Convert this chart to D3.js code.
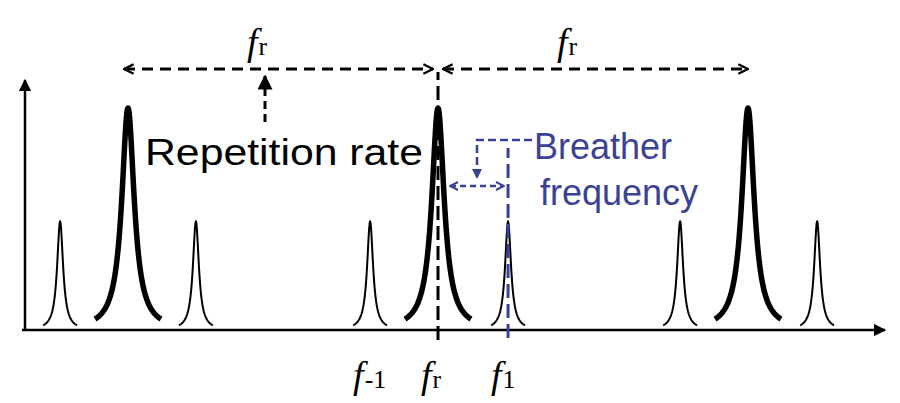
<!DOCTYPE html><html><head><meta charset="utf-8"><script src="https://d3js.org/d3.v7.min.js"></script>
<style>body{margin:0;background:#fff}</style></head><body><svg id="c" width="900" height="403"></svg>
<script>
const peakPos=[-1.219,-1,-0.781,-0.219,0,0.226,0.781,1,1.223];
const peakHeight=[0.49,1,0.49,0.49,1,0.49,0.49,1,0.49];
const peakMain=[false,true,false,false,true,false,false,true,false];
const tickLabels=[{t:"f",s:"-1",v:-0.219},{t:"f",s:"r",v:0},{t:"f",s:"1",v:0.226}];
const svg=d3.select("#c");
const blue="#3b4296";
const x=d3.scaleLinear().domain([-1,1]).range([128,748]);
const y=d3.scaleLinear().domain([0,1]).range([330,108]);
const defs=svg.append("defs");
function mk(id,c){defs.append("marker").attr("id",id).attr("viewBox","0 0 10 10").attr("refX",9).attr("refY",5).attr("markerWidth",4).attr("markerHeight",4).attr("orient","auto-start-reverse").append("path").attr("d","M1,1L9,5L1,9").attr("fill","none").attr("stroke",c).attr("stroke-width",2);}
mk("ab","#000");mk("bb",blue);
defs.append("marker").attr("id","tri").attr("viewBox","0 0 10 10").attr("refX",9).attr("refY",5).attr("markerWidth",5).attr("markerHeight",5).attr("orient","auto").append("path").attr("d","M0,0L10,5L0,10Z").attr("fill","#000");
defs.append("marker").attr("id","trib").attr("viewBox","0 0 10 10").attr("refX",9).attr("refY",5).attr("markerWidth",4).attr("markerHeight",4).attr("orient","auto").append("path").attr("d","M0,0L10,5L0,10Z").attr("fill",blue);
svg.append("line").attr("x1",22).attr("x2",885).attr("y1",330).attr("y2",330).attr("stroke","#000").attr("stroke-width",2.5).attr("marker-end","url(#tri)");
svg.append("line").attr("x1",25).attr("x2",25).attr("y1",331).attr("y2",80).attr("stroke","#000").attr("stroke-width",2.5).attr("marker-end","url(#tri)");
const line=d3.line().x(d=>d[0]).y(d=>d[1]);
peakPos.forEach((p,i)=>{
 const half=peakMain[i]?33:17, w=peakMain[i]?7.5:3.6;
 const c=x(p), pts=[];
 for(let dx=-half;dx<=half;dx+=0.5){pts.push([c+dx,y(peakHeight[i]/(1+(dx/w)**2))]);}
 svg.append("path").attr("d",line(pts)).attr("fill","none").attr("stroke","#000").attr("stroke-width",peakMain[i]?5.5:2).attr("stroke-linejoin","round");
});
svg.append("line").attr("x1",x(0)).attr("x2",x(0)).attr("y1",340).attr("y2",72).attr("stroke","#000").attr("stroke-width",3).attr("stroke-dasharray","14,6");
svg.append("line").attr("x1",x(0.226)).attr("x2",x(0.226)).attr("y1",338).attr("y2",148).attr("stroke",blue).attr("stroke-width",3).attr("stroke-dasharray","14,6");
const ar=(x1,x2,yy)=>svg.append("line").attr("x1",x1).attr("x2",x2).attr("y1",yy).attr("y2",yy).attr("stroke","#000").attr("stroke-width",3).attr("stroke-dasharray","11,7").attr("marker-start","url(#ab)").attr("marker-end","url(#ab)");
ar(x(-1)-4,x(0)-5,69);ar(x(0)+5,x(1),69);
svg.append("line").attr("x1",265).attr("x2",265).attr("y1",122).attr("y2",76).attr("stroke","#000").attr("stroke-width",3).attr("stroke-dasharray","8,5").attr("marker-end","url(#tri)");
function fl(xx,yy,sub,size,col){const t=svg.append("text").attr("x",xx).attr("y",yy).attr("font-family","Liberation Serif, serif").attr("fill",col||"#000");
 t.append("tspan").attr("font-style","italic").attr("font-size",size).text("f");
 t.append("tspan").attr("font-size",size*0.68).attr("dx",1).text(sub);}
fl(247,55,"r",38);fl(557,55,"r",38);
tickLabels.forEach(d=>fl(x(d.v)-17,388,d.s,38));
svg.append("text").attr("x",145).attr("y",165).attr("font-family","Liberation Sans").attr("font-size",36).attr("textLength",278).attr("lengthAdjust","spacingAndGlyphs").text("Repetition rate");
svg.append("text").attr("x",534).attr("y",159).attr("font-family","Liberation Sans").attr("font-size",36).attr("fill",blue).text("Breather");
svg.append("text").attr("x",540).attr("y",205).attr("font-family","Liberation Sans").attr("font-size",36).attr("fill",blue).text("frequency");
svg.append("path").attr("d","M532,140H477V178").attr("fill","none").attr("stroke",blue).attr("stroke-width",2.5).attr("stroke-dasharray","8,4").attr("marker-end","url(#trib)");
svg.append("line").attr("x1",450).attr("x2",504).attr("y1",186).attr("y2",186).attr("stroke",blue).attr("stroke-width",2.5).attr("stroke-dasharray","6,4").attr("marker-start","url(#bb)").attr("marker-end","url(#bb)");
</script></body></html>
